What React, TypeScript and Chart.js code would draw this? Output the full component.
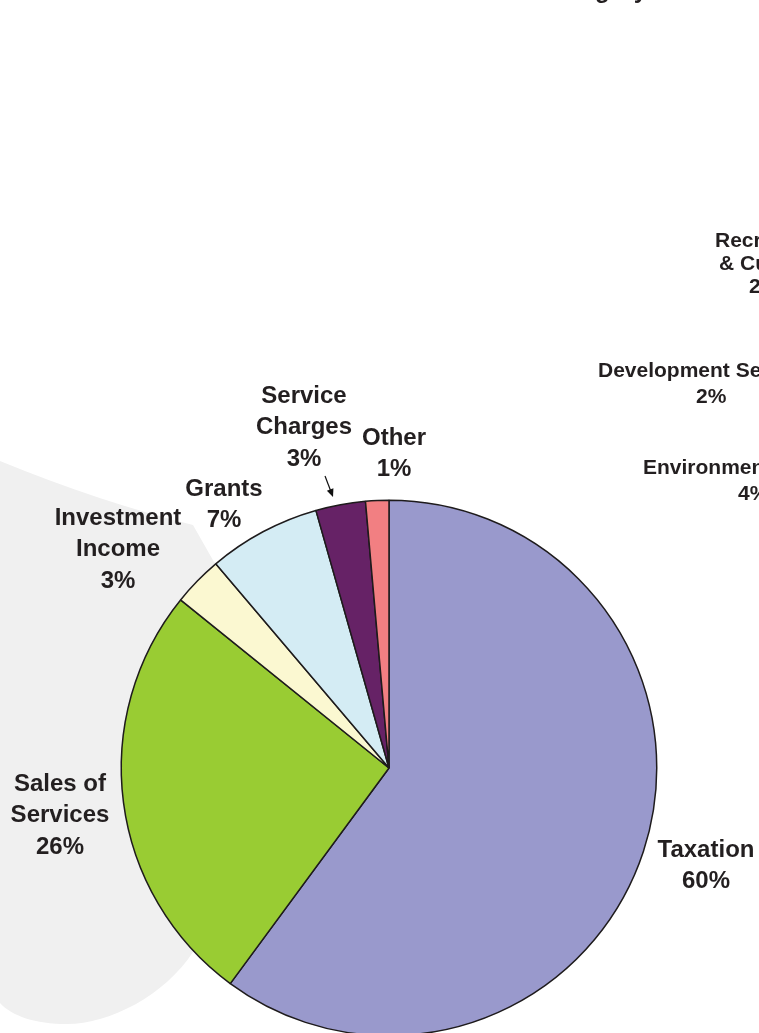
import React, { useEffect, useRef } from "react";
import { Chart, registerables } from "chart.js";

Chart.register(...registerables);

// ---- data ----
const categories = ["Taxation", "Sales of Services", "Investment Income", "Grants", "Service Charges", "Other"];
const shares = [60.1, 25.7, 3.0, 6.8, 3.0, 1.4];
const percentLabels = ["60%", "26%", "3%", "7%", "3%", "1%"];
const labelNameLines = [["Taxation"], ["Sales of", "Services"], ["Investment", "Income"], ["Grants"], ["Service", "Charges"], ["Other"]];
const sliceColors = ["#9999CC", "#99CC33", "#FBF8D1", "#D4ECF4", "#662266", "#F27F82"];

// neighbouring (cut-off) chart texts
const neighbourTitle = "Category";
const neighbourLabels = [
  ["Recreation", "& Culture", "2%"],
  ["Development Services", "2%"],
  ["Environmental Health", "4%"],
];

// ---- layout (not data) ----
const W = 759;
const H = 1033;
const CANVAS_H = 1040;
const FONT = '"Liberation Sans", Arial, Helvetica, sans-serif';
const TEXT_COLOR = "#231F20";
const MAIN_SIZE = 24;
const SIDE_SIZE = 21;
const MAIN_LINE = 31.5;
// centre x and vertical middle of first line's caps
const LABEL_POS = [
  { x: 706, y: 848 },
  { x: 60, y: 782 },
  { x: 118, y: 516 },
  { x: 224, y: 487 },
  { x: 304, y: 394 },
  { x: 394, y: 436 },
];
const SIDE_POS = [
  { xs: [715, 719, 749], ys: [239, 262, 285] },
  { xs: [598, 696], ys: [369, 395] },
  { xs: [643, 738], ys: [466, 492] },
];

const backdropPlugin = {
  id: "backdrop",
  beforeDatasetsDraw(chart: any) {
    const ctx = chart.ctx as CanvasRenderingContext2D;
    ctx.save();
    ctx.fillStyle = "#F0F0F0";
    ctx.beginPath();
    ctx.moveTo(0, 461);
    ctx.quadraticCurveTo(100, 502, 193, 525);
    ctx.lineTo(214, 562);
    ctx.lineTo(320, 620);
    ctx.lineTo(320, 900);
    ctx.lineTo(193, 952);
    ctx.bezierCurveTo(165, 995, 110, 1024, 67, 1024);
    ctx.bezierCurveTo(35, 1024, 12, 1016, 0, 1003);
    ctx.closePath();
    ctx.fill();
    ctx.restore();
  },
};

const labelsPlugin = {
  id: "sliceLabels",
  afterDraw(chart: any) {
    const ctx = chart.ctx as CanvasRenderingContext2D;
    ctx.save();
    ctx.fillStyle = TEXT_COLOR;
    ctx.textBaseline = "alphabetic";

    // main labels
    ctx.font = `bold ${MAIN_SIZE}px ${FONT}`;
    ctx.textAlign = "center";
    categories.forEach((_, i) => {
      const lines = [...labelNameLines[i], percentLabels[i]];
      const p = LABEL_POS[i];
      lines.forEach((t, j) => {
        ctx.fillText(t, p.x, p.y + j * MAIN_LINE + MAIN_SIZE * 0.358);
      });
    });

    // arrow for Service Charges
    ctx.strokeStyle = "#111";
    ctx.fillStyle = "#111";
    ctx.lineWidth = 1.2;
    const x0 = 325, y0 = 476, x1 = 333, y1 = 497;
    const ang = Math.atan2(y1 - y0, x1 - x0);
    ctx.beginPath();
    ctx.moveTo(x0, y0);
    ctx.lineTo(x1 - 5 * Math.cos(ang), y1 - 5 * Math.sin(ang));
    ctx.stroke();
    ctx.beginPath();
    ctx.moveTo(x1, y1);
    ctx.lineTo(x1 - 8 * Math.cos(ang) + 3.5 * Math.sin(ang), y1 - 8 * Math.sin(ang) - 3.5 * Math.cos(ang));
    ctx.lineTo(x1 - 8 * Math.cos(ang) - 3.5 * Math.sin(ang), y1 - 8 * Math.sin(ang) + 3.5 * Math.cos(ang));
    ctx.closePath();
    ctx.fill();

    // neighbouring chart texts (cut off at the right)
    ctx.fillStyle = TEXT_COLOR;
    ctx.textAlign = "left";
    ctx.font = `bold ${SIDE_SIZE}px ${FONT}`;
    neighbourLabels.forEach((lines, i) => {
      lines.forEach((t, j) => {
        ctx.fillText(t, SIDE_POS[i].xs[j], SIDE_POS[i].ys[j] + SIDE_SIZE * 0.358);
      });
    });

    // neighbouring title, only descenders visible
    ctx.font = `bold 24px ${FONT}`;
    ctx.fillText(neighbourTitle, 543, -2);
    ctx.restore();
  },
};

export default function App() {
  const ref = useRef<HTMLCanvasElement | null>(null);
  useEffect(() => {
    if (!ref.current) return;
    const chart = new Chart(ref.current, {
      type: "pie",
      data: {
        labels: categories,
        datasets: [
          {
            data: shares,
            backgroundColor: sliceColors,
            borderColor: "#1E1B1C",
            borderWidth: 1.5,
            hoverOffset: 0,
            offset: 0,
          },
        ],
      },
      options: {
        responsive: false,
        animation: false,
        devicePixelRatio: 1,
        events: [],
        layout: { padding: { left: 120.5, right: 101.5, top: 499.5, bottom: 3.5 } },
        plugins: {
          legend: { display: false },
          tooltip: { enabled: false },
          title: { display: false },
        },
      },
      plugins: [backdropPlugin, labelsPlugin],
    });
    return () => chart.destroy();
  }, []);
  return (
    <div style={{ position: "absolute", left: 0, top: 0, width: W, height: H, overflow: "hidden", background: "#fff" }}>
      <canvas ref={ref} width={W} height={CANVAS_H} style={{ display: "block", width: W, height: CANVAS_H }} />
    </div>
  );
}
